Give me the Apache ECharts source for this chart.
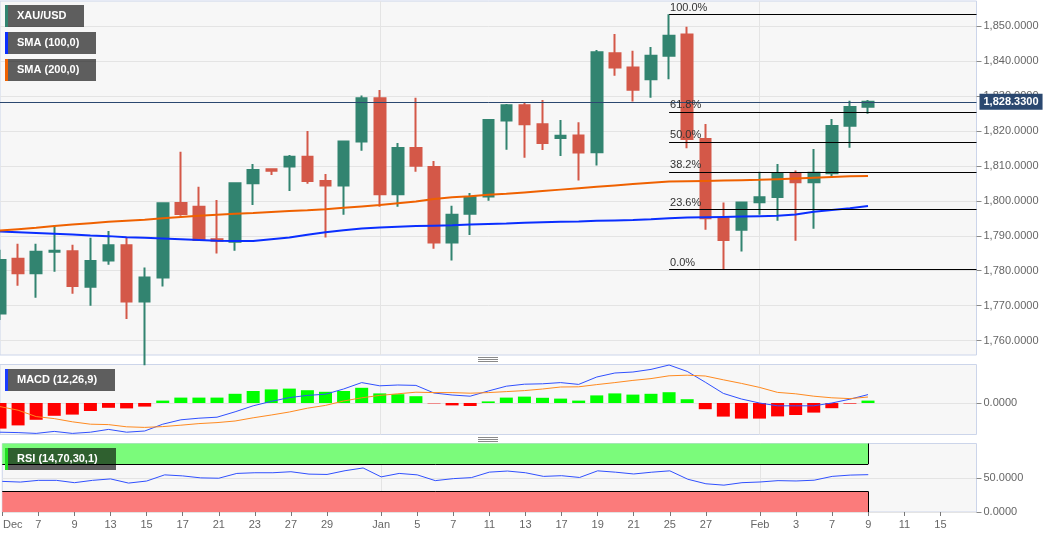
<!DOCTYPE html>
<html>
<head>
<meta charset="utf-8">
<script src="https://cdn.jsdelivr.net/npm/echarts@6/dist/echarts.min.js"></script>
<style>
html,body{margin:0;padding:0;background:#ffffff;}
#chart{width:1060px;height:537px;}
</style>
</head>
<body>
<div id="chart"></div>
<script>
// ---------------- data ----------------
const categories = [
  '2021-12-03','2021-12-06','2021-12-07','2021-12-08','2021-12-09','2021-12-10','2021-12-13','2021-12-14','2021-12-15','2021-12-16',
  '2021-12-17','2021-12-20','2021-12-21','2021-12-22','2021-12-23','2021-12-24','2021-12-27','2021-12-28','2021-12-29','2021-12-30',
  '2021-12-31','2022-01-03','2022-01-04','2022-01-05','2022-01-06','2022-01-07','2022-01-10','2022-01-11','2022-01-12','2022-01-13',
  '2022-01-14','2022-01-17','2022-01-18','2022-01-19','2022-01-20','2022-01-21','2022-01-24','2022-01-25','2022-01-26','2022-01-27',
  '2022-01-28','2022-01-31','2022-02-01','2022-02-02','2022-02-03','2022-02-04','2022-02-07','2022-02-08','2022-02-09','2022-02-10',
  '2022-02-11','2022-02-14','2022-02-15','2022-02-16','2022-02-17'
];
const opens  = [1767.8,1783.4,1779.3,1785.4,1785.6,1775.4,1782.9,1787.3,1771.2,1778.1,1799.4,1798.3,1789.0,1788.3,1805.0,1809.0,1809.8,1812.6,1805.7,1804.4,1817.0,1829.3,1801.9,1815.1,1809.7,1788.1,1796.3,1801.2,1823.0,1827.3,1821.9,1818.0,1818.7,1813.9,1842.2,1838.1,1834.8,1841.5,1847.6,1817.7,1795.0,1791.7,1799.6,1801.1,1807.7,1805.3,1807.9,1821.5,1826.9];
const closes = [1783.1,1779.3,1785.4,1785.7,1775.6,1782.8,1787.3,1771.2,1778.1,1799.3,1796.2,1788.8,1788.6,1805.0,1808.8,1808.6,1812.6,1805.7,1804.4,1817.0,1829.3,1801.9,1815.1,1810.0,1788.1,1796.0,1801.0,1823.1,1827.3,1821.9,1816.5,1818.6,1813.8,1842.5,1838.1,1831.8,1841.5,1847.2,1817.7,1795.0,1788.8,1799.5,1801.0,1807.7,1805.3,1808.0,1821.4,1826.8,1828.33];
const lows   = [1765.9,1775.7,1772.3,1779.7,1773.4,1770.0,1781.7,1766.2,1753.0,1775.5,1795.7,1788.6,1784.9,1785.7,1798.8,1807.4,1802.8,1804.9,1789.5,1796.0,1814.3,1798.3,1798.3,1808.3,1786.3,1782.9,1790.2,1800.0,1814.6,1812.3,1814.5,1812.8,1805.8,1810.1,1835.8,1828.4,1829.5,1834.8,1815.0,1791.7,1780.4,1785.5,1796.0,1794.3,1788.6,1792.0,1806.9,1815.2,1824.9];
const highs  = [1786.0,1787.7,1787.7,1793.0,1787.4,1789.4,1791.4,1789.6,1780.9,1799.6,1814.0,1804.0,1800.2,1805.2,1810.5,1809.3,1813.1,1820.0,1807.7,1817.2,1830.1,1831.7,1816.5,1829.5,1811.4,1798.6,1802.2,1823.4,1827.7,1828.1,1828.8,1823.1,1822.5,1843.1,1847.7,1842.9,1844.0,1853.35,1849.8,1822.0,1799.5,1799.8,1808.3,1810.5,1808.7,1814.8,1823.4,1828.6,1828.8];
const sma100 = [1791.2,1791.0,1790.8,1790.6,1790.4,1790.1,1789.9,1789.6,1789.4,1789.2,1789.0,1788.8,1788.6,1788.5,1788.5,1789.0,1789.5,1790.3,1791.0,1791.6,1792.1,1792.4,1792.6,1792.8,1792.9,1793.0,1793.2,1793.4,1793.5,1793.7,1793.9,1794.0,1794.1,1794.3,1794.4,1794.5,1794.7,1795.0,1795.2,1795.3,1795.4,1795.5,1795.6,1795.7,1796.1,1796.9,1797.4,1797.9,1798.5];
const sma200 = [1791.5,1791.9,1792.3,1792.8,1793.2,1793.6,1794.0,1794.3,1794.6,1795.0,1795.4,1795.7,1796.0,1796.3,1796.5,1796.8,1797.1,1797.3,1797.6,1798.0,1798.4,1798.8,1799.3,1799.8,1800.5,1801.0,1801.3,1801.7,1802.0,1802.4,1802.8,1803.2,1803.6,1804.0,1804.4,1804.8,1805.2,1805.5,1805.6,1805.7,1805.8,1805.9,1806.0,1806.2,1806.4,1806.6,1806.8,1807.0,1807.1];
const macdLine   = [-7.3,-7.4,-7.6,-7.1,-7.6,-7.3,-6.6,-7.3,-7.0,-5.3,-4.2,-3.8,-3.55,-2.2,-0.7,0.4,1.35,1.9,2.2,3.5,5.1,4.3,4.5,4.4,2.5,2.0,1.7,3.0,4.2,4.7,4.8,5.1,4.65,6.5,7.5,7.75,8.4,9.5,7.9,5.2,2.4,1.0,0.0,-0.7,-0.7,-0.7,0.0,0.95,2.1];
const macdSignal = [-0.9,-1.8,-3.4,-3.9,-4.7,-5.3,-5.4,-5.95,-6.1,-5.9,-5.55,-5.15,-4.9,-4.5,-3.7,-3.0,-2.25,-1.3,-0.6,0.5,1.3,1.9,2.3,2.7,2.6,2.6,2.45,2.6,2.85,3.1,3.5,4.0,4.05,4.6,5.1,5.65,6.1,6.8,6.95,6.75,5.8,4.9,3.9,2.65,2.3,1.7,1.3,1.1,1.5];
const macdHist   = [-6.4,-5.6,-4.2,-3.2,-2.9,-2.0,-1.2,-1.35,-0.9,0.6,1.35,1.35,1.35,2.3,3.0,3.4,3.6,3.2,2.8,3.0,3.8,2.4,2.2,1.7,-0.1,-0.6,-0.75,0.4,1.35,1.6,1.3,1.1,0.6,1.9,2.4,2.1,2.3,2.7,0.95,-1.55,-3.4,-3.9,-3.9,-3.35,-3.0,-2.4,-1.3,-0.15,0.6];
const rsi = [44.7,43.7,46.2,46.2,42.8,46.2,48.3,42.2,45.2,54.2,52.7,49.8,49.3,56.3,57.3,57.3,58.8,55.3,54.8,60.3,64.3,51.3,56.3,54.2,45.8,48.7,50.2,58.2,59.8,57.3,52.0,53.0,50.4,60.1,58.1,55.5,58.1,60.1,47.8,41.2,39.2,42.8,43.8,45.8,45.3,46.4,52.0,53.9,54.5];
const rsiUpper = 70, rsiLower = 30;
const lastPrice = 1828.33;
const priceTicks = [1760,1770,1780,1790,1800,1810,1820,1830,1840,1850];
const macdTicks = [0];
const rsiTicks = [0, 50];
const xLabelDates = ['2021-12-03','2021-12-07','2021-12-09','2021-12-13','2021-12-15','2021-12-17','2021-12-21','2021-12-23','2021-12-27','2021-12-29','2022-01-03','2022-01-05','2022-01-07','2022-01-11','2022-01-13','2022-01-17','2022-01-19','2022-01-21','2022-01-25','2022-01-27','2022-02-01','2022-02-03','2022-02-07','2022-02-09','2022-02-11','2022-02-15'];
const xLabelTexts = ['Dec','7','9','13','15','17','21','23','27','29','Jan','5','7','11','13','17','19','21','25','27','Feb','3','7','9','11','15'];
const fibStartDate = '2022-01-25';
const fibPrices = [1853.35, 1825.46, 1816.88, 1808.27, 1797.62, 1780.40];
const fibLabels = ['100.0%','61.8%','50.0%','38.2%','23.6%','0.0%'];

// ---------------- helpers ----------------
const FONT = 'Liberation Sans, Arial, Helvetica, sans-serif';
const fmt4 = v => Number(v).toLocaleString('en-US', {minimumFractionDigits: 4, maximumFractionDigits: 4});
const lastDataDate = categories[closes.length - 1];
const lastCat = categories[categories.length - 1];
const monthStart = new Set(categories.filter((d, i) => i > 0 && d.slice(5, 7) !== categories[i - 1].slice(5, 7)));
const isLabelDate = (idx, val) => xLabelDates.indexOf(val) >= 0;
const isMonthStart = (idx, val) => monthStart.has(val);

const GREEN = '#328470', RED = '#d45848';
const GRID_BORDER = '#ccd5ea';
const SPLIT = '#e4e4e4';

const grids = [
  {left: 0, right: 83.5, top: 1, height: 354},
  {left: 0, right: 83.5, top: 364.5, height: 70},
  {left: 0, right: 83.5, top: 443.5, height: 68.5}
].map(g => Object.assign(g, {show: true, backgroundColor: '#f7f7f7', borderColor: GRID_BORDER, borderWidth: 1}));

function xAxisFor(i, showLabels) {
  return {
    type: 'category', gridIndex: i, data: categories, boundaryGap: false,
    axisLine: {show: false},
    axisTick: {show: showLabels, interval: isLabelDate, length: 4, lineStyle: {color: '#777'}},
    axisLabel: {
      show: showLabels, interval: isLabelDate, color: '#666', fontSize: 11, fontFamily: FONT, margin: 7,
      formatter: (val) => {
        const k = xLabelDates.indexOf(val);
        if (k < 0) return '';
        return k === 0 ? '{first|' + xLabelTexts[k] + '}' : xLabelTexts[k];
      },
      rich: {first: {padding: [0, 0, 0, 21], color: '#666', fontSize: 11, fontFamily: FONT}}
    },
    splitLine: {show: true, interval: isMonthStart, lineStyle: {color: SPLIT}}
  };
}

function yAxisFor(i, min, max, ticks) {
  return {
    type: 'value', gridIndex: i, position: 'right', min: min, max: max, scale: true,
    axisLine: {show: false},
    axisTick: {show: true, length: 5, customValues: ticks, lineStyle: {color: '#888'}},
    axisLabel: {customValues: ticks, formatter: fmt4, color: '#666', fontSize: 11, fontFamily: FONT, margin: 7},
    splitLine: {show: true, lineStyle: {color: SPLIT}}
  };
}

const fibMarkData = fibPrices.map((p, k) => [
  {coord: [fibStartDate, p], label: {formatter: fibLabels[k]}},
  {coord: [lastCat, p]}
]);

function legendBox(x, y, w, stripe, text) {
  return {
    type: 'group', x: x, y: y, silent: true, z: 100,
    children: [
      {type: 'rect', z: 100, shape: {x: 0, y: 0, width: w, height: 22}, style: {fill: 'rgba(0,0,0,0.62)'}},
      {type: 'rect', z: 101, shape: {x: 0, y: 0, width: 3, height: 22}, style: {fill: stripe}},
      {type: 'text', z: 102, x: 12, y: 11, style: {text: text, fill: '#ffffff', font: 'bold 11px ' + FONT, verticalAlign: 'middle', align: 'left'}}
    ]
  };
}
function grip(y) {
  return {
    type: 'group', x: 478, y: y, silent: true, z: 100,
    children: [0, 2, 4].map(dy => ({type: 'line', z: 100, shape: {x1: 0, y1: dy + 0.5, x2: 20, y2: dy + 0.5}, style: {stroke: '#8a8a8a', lineWidth: 1}}))
  };
}

const option = {
  animation: false,
  backgroundColor: '#ffffff',
  textStyle: {fontFamily: FONT},
  grid: grids,
  xAxis: [xAxisFor(0, false), xAxisFor(1, false), xAxisFor(2, true)],
  yAxis: [
    yAxisFor(0, 1755.9, 1857.15, priceTicks),
    yAxisFor(1, -7.875, 9.625, macdTicks),
    yAxisFor(2, 0, 100, rsiTicks)
  ],
  series: [
    {
      name: 'XAU/USD', type: 'candlestick', xAxisIndex: 0, yAxisIndex: 0,
      data: opens.map((o, i) => [o, closes[i], lows[i], highs[i]]),
      barWidth: 11,
      itemStyle: {color: GREEN, color0: RED, borderColor: GREEN, borderColor0: RED, borderWidth: 2},
      emphasis: {disabled: true},
      markLine: {
        silent: true, symbol: ['none', 'none'], animation: false,
        lineStyle: {color: '#000000', width: 1, type: 'solid'},
        label: {show: true, position: 'insideStartTop', color: '#333', fontSize: 11, fontFamily: FONT, distance: [1, 1]},
        emphasis: {disabled: true},
        data: fibMarkData.concat([
          {yAxis: lastPrice, lineStyle: {color: '#2b4870', width: 1, type: 'solid'},
           label: {show: true, position: 'end', formatter: fmt4(lastPrice), backgroundColor: '#2b4870', color: '#fff',
                   fontWeight: 'bold', fontSize: 11, fontFamily: FONT, padding: [3, 4, 2, 4], distance: 3}}
        ])
      }
    },
    {name: 'SMA (100,0)', type: 'line', xAxisIndex: 0, yAxisIndex: 0, data: sma100, symbol: 'none',
     lineStyle: {color: '#0a2eff', width: 2}, z: 3, silent: true},
    {name: 'SMA (200,0)', type: 'line', xAxisIndex: 0, yAxisIndex: 0, data: sma200, symbol: 'none',
     lineStyle: {color: '#ef6100', width: 2}, z: 3, silent: true},
    {name: 'hist', type: 'bar', xAxisIndex: 1, yAxisIndex: 1, data: macdHist, barWidth: 13, silent: true,
     itemStyle: {color: p => (p.value >= 0 ? '#00ff00' : '#ff0000')}},
    {name: 'MACD', type: 'line', xAxisIndex: 1, yAxisIndex: 1, data: macdLine, symbol: 'none',
     lineStyle: {color: '#3050ff', width: 1}, z: 4, silent: true},
    {name: 'Signal', type: 'line', xAxisIndex: 1, yAxisIndex: 1, data: macdSignal, symbol: 'none',
     lineStyle: {color: '#ff8a20', width: 1}, z: 4, silent: true},
    {name: 'RSI', type: 'line', xAxisIndex: 2, yAxisIndex: 2, data: rsi, symbol: 'none',
     lineStyle: {color: '#3050ff', width: 1}, z: 4, silent: true,
     markArea: {
       silent: true,
       data: [
         [{xAxis: categories[0], yAxis: rsiUpper, itemStyle: {color: '#7bfb7b', opacity: 1}}, {xAxis: lastDataDate, yAxis: 100}],
         [{xAxis: categories[0], yAxis: 0, itemStyle: {color: '#fb7b7b', opacity: 1}}, {xAxis: lastDataDate, yAxis: rsiLower}]
       ]
     },
     markLine: {
       silent: true, symbol: ['none', 'none'], label: {show: false},
       lineStyle: {color: '#000', width: 1, type: 'solid'},
       data: [
         [{coord: [categories[0], rsiUpper]}, {coord: [lastDataDate, rsiUpper]}],
         [{coord: [categories[0], rsiLower]}, {coord: [lastDataDate, rsiLower]}],
         [{coord: [lastDataDate, rsiUpper]}, {coord: [lastDataDate, 100]}],
         [{coord: [lastDataDate, 0]}, {coord: [lastDataDate, rsiLower]}]
       ]
     }
    }
  ],
  graphic: [
    legendBox(5, 5, 79, GREEN, 'XAU/USD'),
    legendBox(5, 32, 91, '#0a2eff', 'SMA (100,0)'),
    legendBox(5, 59, 91, '#ef6100', 'SMA (200,0)'),
    legendBox(5, 369, 110, '#1a3cff', 'MACD (12,26,9)'),
    legendBox(5, 448, 111, '#22e022', 'RSI (14,70,30,1)'),
    grip(357),
    grip(437)
  ]
};

const chart = echarts.init(document.getElementById('chart'), null, {renderer: 'canvas'});
chart.setOption(option);
</script>
</body>
</html>
